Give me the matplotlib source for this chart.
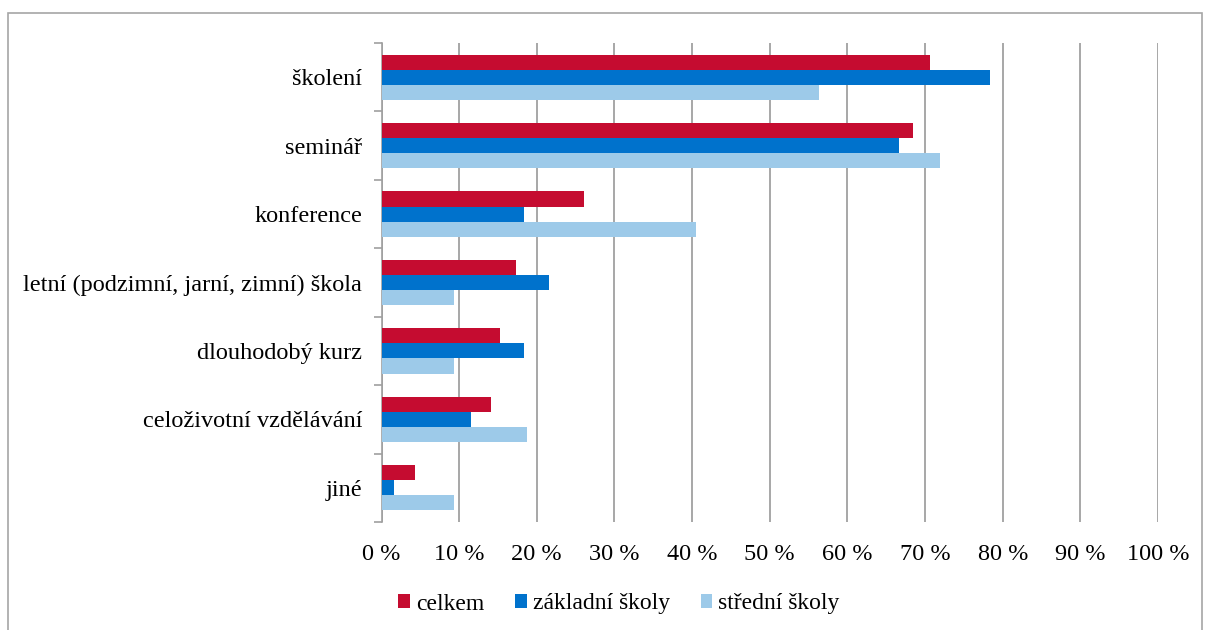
import matplotlib.pyplot as plt
import numpy as np
from matplotlib.patches import Rectangle
from matplotlib.ticker import FixedLocator

plt.rcParams['font.family'] = ['Liberation Serif', 'DejaVu Serif']

categories = ['školení', 'seminář', 'konference', 'letní (podzimní, jarní, zimní) škola',
              'dlouhodobý kurz', 'celoživotní vzdělávání', 'jiné']
celkem = [70.7, 68.5, 26.1, 17.3, 15.2, 14.1, 4.3]
zakladni = [78.4, 66.6, 18.3, 21.6, 18.3, 11.5, 1.6]
stredni = [56.3, 71.9, 40.5, 9.4, 9.4, 18.7, 9.4]
series_names = ['celkem', 'základní školy', 'střední školy']
colors = ['#C50C30', '#0072CC', '#9DCAE9']
xticks = list(range(0, 101, 10))

fig = plt.figure(figsize=(12.05, 6.3), dpi=100)
ax = fig.add_axes([381.5 / 1205, 1 - 522 / 630, (1158 - 381.5) / 1205, 479 / 630])

# frame around the whole chart
fig.patches.append(Rectangle((8 / 1205, -0.05), (1202 - 8) / 1205, 1 - 13 / 630 + 0.05,
                             transform=fig.transFigure, fill=False,
                             edgecolor='#A6A6A6', linewidth=1.2))

y = np.arange(len(categories))
h = 0.22
for i, (vals, name, c) in enumerate(zip([celkem, zakladni, stredni], series_names, colors)):
    ax.barh(y + (i - 1) * h, vals, height=h, color=c, label=name, zorder=3)

ax.set_ylim(len(categories) - 0.5, -0.5)
ax.set_xlim(0, 100)
ax.set_xticks(xticks)
ax.set_xticklabels([f'{t} %' for t in xticks], fontsize=17.5)
ax.set_yticks(y)
ax.set_yticklabels(categories, fontsize=17.5)
ax.yaxis.set_minor_locator(FixedLocator(np.arange(-0.5, len(categories), 1)))
ax.tick_params(axis='y', which='major', length=0, pad=14)
ax.tick_params(axis='y', which='minor', length=6, color='#A0A0A0', width=1.2)
ax.tick_params(axis='x', length=0, pad=16)

ax.grid(axis='x', color='#A0A0A0', linewidth=1.3, zorder=0)
for s in ['top', 'right', 'bottom']:
    ax.spines[s].set_visible(False)
ax.spines['left'].set_color('#A0A0A0')
ax.spines['left'].set_linewidth(1.2)

fig.legend(loc='center', bbox_to_anchor=(619 / 1205, 1 - 604 / 630), ncol=3, frameon=False,
           fontsize=17, handlelength=0.5, handleheight=0.5, handletextpad=0.25, columnspacing=1.3)

fig.savefig('out.png', dpi=100)
